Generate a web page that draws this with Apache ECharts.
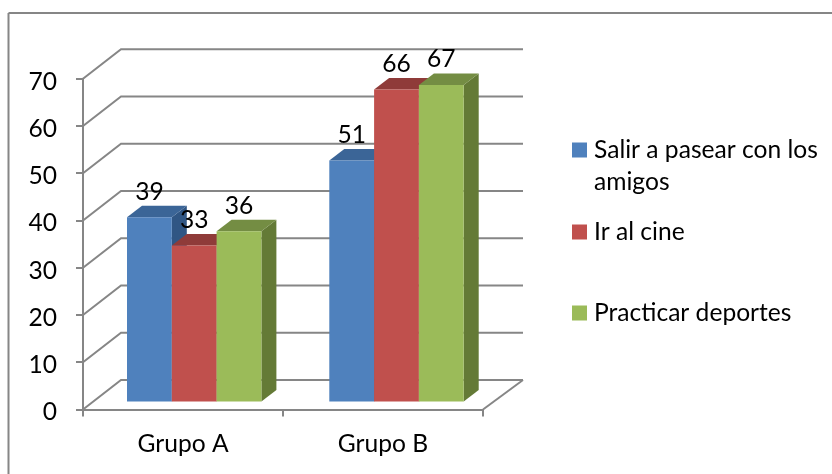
<!DOCTYPE html>
<html>
<head>
<meta charset="utf-8">
<style>html,body{margin:0;padding:0;background:#fff}#chart{width:832px;height:474px}</style>
<script src="https://cdn.jsdelivr.net/npm/echarts@6/dist/echarts.min.js"></script>
</head>
<body>
<div id="chart"></div>
<script>
// Chart data
const categories = ['Grupo A', 'Grupo B'];
const salirValues = [39, 51];
const cineValues = [33, 66];
const deportesValues = [36, 67];
const yTicks = [0, 10, 20, 30, 40, 50, 60, 70];
const seriesNames = ['Salir a pasear con los amigos', 'Ir al cine', 'Practicar deportes'];

// Drawing constants for the oblique 3D look
const AXIS = '#868686';
const FONT = 'Lato, "Open Sans", sans-serif';
const FONT_SIZE = 24.6;
const WALL_DX = 38, WALL_DY = 29.5, WALL_RIGHT_DX = 40;
const BAR_LIFT = 8, BAR_DX = 15, BAR_DY = 11.5, BAR_WIDTH = 44.8, LABEL_GAP = 25.5;
const CLUSTER_SHIFT = [-56, -53.7];
const palette = [
  { front: '#4F81BD', top: '#3B6597', side: '#305684' },
  { front: '#C0504D', top: '#8F3B39', side: '#803431' },
  { front: '#9BBB59', top: '#748D43', side: '#647A36' }
];

// Back wall gridlines with their receding segments, and the floor edge
function renderWall(params, api) {
  const v = api.value(1);
  const r = params.coordSys;
  const y = api.coord([0, v])[1];
  const left = r.x, right = r.x + r.width;
  const style = { stroke: AXIS, lineWidth: 2, fill: null };
  const children = [{
    type: 'polyline',
    shape: { points: [[left, y], [left + WALL_DX, y - WALL_DY], [right + WALL_RIGHT_DX, y - WALL_DY]] },
    style
  }];
  if (v === 0) {
    children.push({
      type: 'line',
      shape: { x1: right, y1: y, x2: right + WALL_RIGHT_DX, y2: y - WALL_DY },
      style
    });
  }
  return { type: 'group', children };
}

// One extruded bar: side, top, front, then its value label
function makeBarRenderer(s) {
  const c = palette[s];
  return function (params, api) {
    const i = api.value(0), v = api.value(1);
    const cx = api.coord([i, 0])[0];
    const x0 = cx + CLUSTER_SHIFT[i] + s * BAR_WIDTH;
    const x1 = x0 + BAR_WIDTH;
    const base = api.coord([i, 0])[1] - BAR_LIFT;
    const top = api.coord([i, v])[1] - BAR_LIFT;
    return {
      type: 'group',
      children: [
        { type: 'polygon', shape: { points: [[x1, top], [x1 + BAR_DX, top - BAR_DY], [x1 + BAR_DX, base - BAR_DY], [x1, base]] },
          style: { fill: c.side } },
        { type: 'polygon', shape: { points: [[x0, top], [x0 + BAR_DX, top - BAR_DY], [x1 + BAR_DX, top - BAR_DY], [x1, top]] },
          style: { fill: c.top } },
        { type: 'rect', shape: { x: x0, y: top, width: BAR_WIDTH, height: base - top },
          style: { fill: c.front } },
        { type: 'text', z2: 100,
          style: { text: String(v), x: x0 + BAR_WIDTH / 2, y: top - LABEL_GAP, align: 'center', verticalAlign: 'middle',
                   fill: '#000', font: FONT_SIZE + 'px ' + FONT } }
      ]
    };
  };
}

const barValues = [salirValues, cineValues, deportesValues];
const legendTops = [102, 217, 298];

const option = {
  animation: false,
  backgroundColor: '#fff',
  grid: { left: 83, right: 349, top: 78.7, bottom: 64.5 },
  xAxis: {
    type: 'category', data: categories,
    axisLine: { lineStyle: { color: AXIS, width: 2 } },
    axisTick: { show: true, length: 7, lineStyle: { color: AXIS, width: 2 } },
    axisLabel: { color: '#000', fontFamily: FONT, fontSize: FONT_SIZE, margin: 22 }
  },
  yAxis: {
    type: 'value', min: 0, max: 70, interval: 10,
    splitLine: { show: false },
    axisLine: { show: true, lineStyle: { color: AXIS, width: 2 } },
    axisTick: { show: true, length: 7, lineStyle: { color: AXIS, width: 2 } },
    axisLabel: {
      margin: 26,
      formatter: '{t|{value}}',
      // Top padding sets the digits slightly below their tick marks
      rich: { t: { color: '#000', fontFamily: FONT, fontSize: FONT_SIZE, padding: [6, 0, 0, 0] } }
    }
  },
  legend: seriesNames.map((name, s) => ({
    data: [name],
    orient: 'vertical',
    left: 572,
    top: legendTops[s],
    icon: 'rect',
    itemWidth: 15,
    itemHeight: 15,
    itemGap: 0,
    padding: 0,
    selectedMode: false,
    // A blank leading line keeps the first wrapped line level with the swatch
    formatter: n => n === seriesNames[0] ? '\u00a0\nSalir a pasear con los\namigos' : n,
    textStyle: { color: '#000', fontFamily: FONT, fontSize: FONT_SIZE, lineHeight: s === 0 ? 32 : 30, padding: [0, 0, 0, 2] }
  })),
  graphic: [
    { type: 'line', silent: true, shape: { x1: 8.5, y1: 13, x2: 832, y2: 13 }, style: { stroke: AXIS, lineWidth: 2 } },
    { type: 'line', silent: true, shape: { x1: 8.5, y1: 13, x2: 8.5, y2: 474 }, style: { stroke: AXIS, lineWidth: 2 } }
  ],
  series: [
    {
      type: 'custom', name: 'wall', coordinateSystem: 'cartesian2d', silent: true, clip: false, z: 1,
      renderItem: renderWall,
      encode: { x: 0, y: 1 },
      data: yTicks.map(v => [0, v])
    }
  ].concat(seriesNames.map((name, s) => ({
    type: 'custom', name, coordinateSystem: 'cartesian2d', clip: false, z: 3 + s,
    itemStyle: { color: palette[s].front },
    renderItem: makeBarRenderer(s),
    encode: { x: 0, y: 1 },
    data: barValues[s].map((v, i) => [i, v])
  })))
};

echarts.init(document.getElementById('chart'), null, { renderer: 'canvas' }).setOption(option);
</script>
</body>
</html>
